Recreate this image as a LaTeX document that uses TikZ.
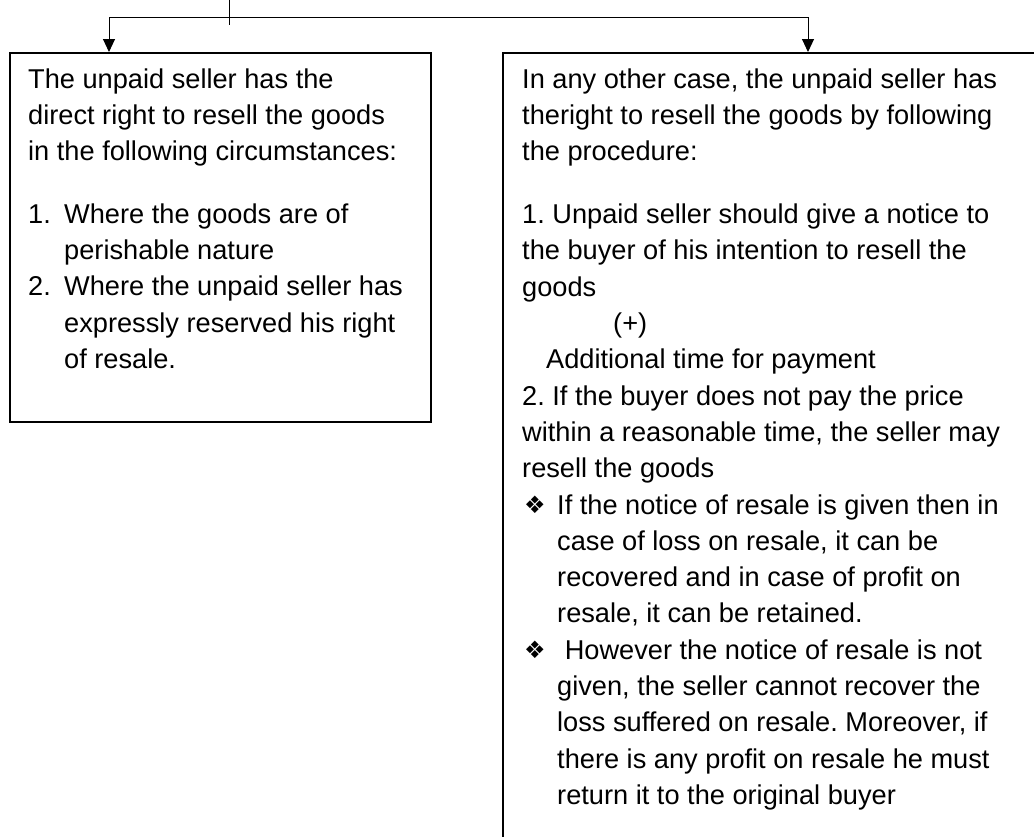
\documentclass[tikz,border=0pt]{standalone}
\usepackage{fontspec}
\setmainfont{Liberation Sans}
\newfontfamily\dingfont{DejaVu Sans}
\usetikzlibrary{arrows.meta}
\newcommand{\diabullet}{\makebox[35pt][l]{\hspace*{2pt}\raisebox{0.5pt}{\dingfont\fontsize{24pt}{24pt}\selectfont ❖}}}
\newcommand{\numitem}[1]{\makebox[36pt][l]{#1}}
\begin{document}
\begin{tikzpicture}[x=1pt,y=-1pt,
  frame/.style={draw=black, line width=1.5pt, inner sep=0pt, anchor=north west},
  link/.style={draw=black, line width=1pt},
  linkarrow/.style={link, -{Triangle[length=13pt,width=12pt]}},
  body/.style={anchor=north west, inner sep=0pt, align=left,
    font=\frenchspacing\fontsize{27.2pt}{36.3pt}\selectfont},
]
\useasboundingbox (0,0) rectangle (1034,836);
\clip (0,0) rectangle (1034,836);

% the two boxes (the right one runs on past the page edge)
\node[frame, minimum width=421pt, minimum height=369pt] (leftbox) at (9,52) {};
\node[frame, minimum width=600pt, minimum height=820pt] (rightbox) at (502,52) {};

% fork from the parent above
\coordinate (stemtop) at (229,0);
\coordinate (stemend) at (229,25);
\coordinate (forkL) at (109,17);
\coordinate (forkR) at (808,17);
\draw[link] (stemtop) -- (stemend);
\draw[link] (forkL) -- (forkR);
\draw[linkarrow] (forkL) -- (forkL |- leftbox.north);
\draw[linkarrow] (forkR) -- (forkR |- rightbox.north);

% left box text
\node[body] (lefttext) at (28,64) {\rule{0pt}{24pt}The unpaid seller has the\\
direct right to resell the goods\\
in the following circumstances:\\[26pt]
\numitem{1.}Where the goods are of\\
\hspace*{36pt}perishable nature\\
\numitem{2.}Where the unpaid seller has\\
\hspace*{36pt}expressly reserved his right\\
\hspace*{36pt}of resale.};

% right box text
\node[body] (righttext) at (522,64) {\rule{0pt}{24pt}In any other case, the unpaid seller has\\
theright to resell the goods by following\\
the procedure:\\[26.5pt]
1. Unpaid seller should give a notice to\\
the buyer of his intention to resell the\\
goods\\
\hspace*{91pt}(+)\\
\hspace*{24pt}Additional time for payment\\
2. If the buyer does not pay the price\\
within a reasonable time, the seller may\\
resell the goods\\
\diabullet If the notice of resale is given then in\\
\hspace*{35pt}case of loss on resale, it can be\\
\hspace*{35pt}recovered and in case of profit on\\
\hspace*{35pt}resale, it can be retained.\\
\diabullet\ However the notice of resale is not\\
\hspace*{35pt}given, the seller cannot recover the\\
\hspace*{35pt}loss suffered on resale. Moreover, if\\
\hspace*{35pt}there is any profit on resale he must\\
\hspace*{35pt}return it to the original buyer};
\end{tikzpicture}
\end{document}
